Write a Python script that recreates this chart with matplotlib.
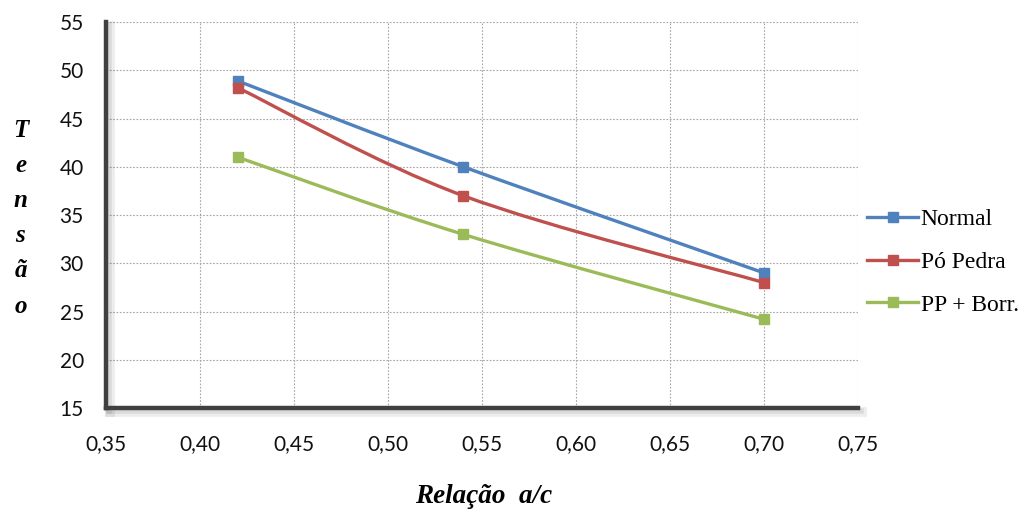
import numpy as np
import matplotlib.pyplot as plt
from matplotlib.path import Path
from matplotlib.patches import PathPatch
from matplotlib.lines import Line2D
from matplotlib import patheffects as pe


#  DATA

relacao = [0.42, 0.54, 0.70]

normal = [48.9, 40.0, 29.0]
po_pedra = [48.2, 37.0, 28.0]
pp_borr = [41.0, 33.0, 24.2]

series_names = ["Normal", "Pó Pedra", "PP + Borr."]
series_colors = ["#4F81BD", "#C0504D", "#9BBB59"]

x_ticks = [0.35, 0.40, 0.45, 0.50, 0.55, 0.60, 0.65, 0.70, 0.75]
y_ticks = [15, 20, 25, 30, 35, 40, 45, 50, 55]


#  SMOOTH LINE (excel style bezier through the points)

def smooth_path(xs, ys):
    pts = np.column_stack([xs, ys])
    n = len(pts)
    verts = [pts[0]]
    codes = [Path.MOVETO]
    for i in range(n - 1):
        p0 = pts[max(i - 1, 0)]
        p1 = pts[i]
        p2 = pts[i + 1]
        p3 = pts[min(i + 2, n - 1)]
        c1 = p1 + (p2 - p0) / 6.0
        c2 = p2 - (p3 - p1) / 6.0
        verts += [c1, c2, p2]
        codes += [Path.CURVE4] * 3
    return Path(verts, codes)


#  FIGURE

fig = plt.figure(figsize=(10.24, 5.12), dpi=100)
ax = fig.add_axes([0.1035, 0.203, 0.7345, 0.754])

ax.set_xlim(0.35, 0.75)
ax.set_ylim(15, 55)
ax.set_xticks(x_ticks)
ax.set_yticks(y_ticks)
ax.set_xticklabels([f"{t:.2f}".replace(".", ",") for t in x_ticks])
ax.set_yticklabels([str(t) for t in y_ticks])

for lab in ax.get_xticklabels() + ax.get_yticklabels():
    lab.set_fontfamily("Lato")
    lab.set_fontsize(15)
    lab.set_color("#111111")

ax.tick_params(axis="x", length=0, pad=19)
ax.tick_params(axis="y", length=0, pad=16)

ax.grid(True, linestyle=(0, (1.5, 1.5)), color="#A6A6A6", linewidth=0.8)
ax.set_axisbelow(True)

for side in ["top", "right"]:
    ax.spines[side].set_visible(False)
for side in ["left", "bottom"]:
    ax.spines[side].set_linewidth(3.2)
    ax.spines[side].set_color("#404040")
    ax.spines[side].set_path_effects([
        pe.SimpleLineShadow(offset=(3, -3), shadow_color="#000000", alpha=0.07, linewidth=7),
        pe.SimpleLineShadow(offset=(2, -2), shadow_color="#000000", alpha=0.08, linewidth=4),
        pe.Normal()
    ])

all_series = [normal, po_pedra, pp_borr]
handles = []
for vals, name, col in zip(all_series, series_names, series_colors):
    patch = PathPatch(smooth_path(relacao, vals), facecolor="none",
                      edgecolor=col, linewidth=2.4, zorder=3)
    ax.add_patch(patch)
    ax.plot(relacao, vals, linestyle="none", marker="s", markersize=7,
            color=col, zorder=4)
    handles.append(Line2D([0], [0], color=col, linewidth=2.4,
                          marker="s", markersize=7))

fig.legend(handles, series_names, loc="center left",
           bbox_to_anchor=(0.837, 0.488), frameon=False,
           prop={"family": "Liberation Serif", "size": 17},
           handlelength=2.2, handletextpad=0.1, labelspacing=0.9,
           borderaxespad=0)

fig.text(0.02, 0.574, "T\ne\nn\ns\nã\no", ha="center", va="center",
         family="Liberation Serif", style="italic", weight="bold",
         fontsize=18, linespacing=1.68)

fig.text(0.472, 0.03, "Relação  a/c", ha="center", va="center",
         family="Liberation Serif", style="italic", weight="bold",
         fontsize=19.5)

fig.savefig("out.png", dpi=100)
